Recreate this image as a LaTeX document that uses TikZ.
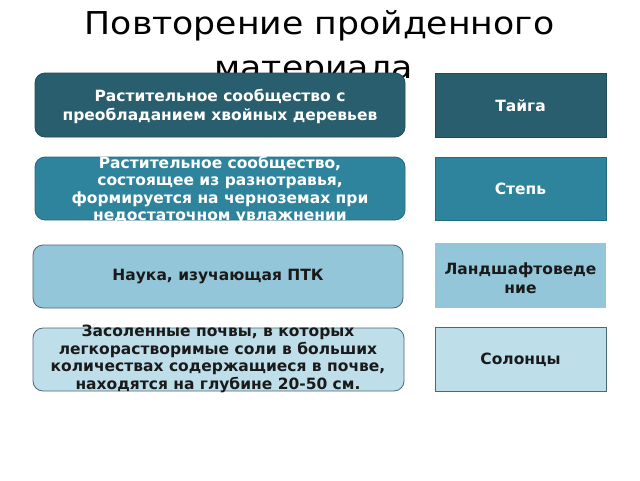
\documentclass[tikz,border=0pt]{standalone}
\usepackage{fontspec}
\setmainfont{DejaVu Sans}
\newfontfamily\titlefont[FakeStretch=1.1]{DejaVu Sans}
\definecolor{cdark}{HTML}{295E6E}
\definecolor{cmid}{HTML}{2F849D}
\definecolor{clight}{HTML}{93C6D8}
\definecolor{cpale}{HTML}{BEDFEA}
\definecolor{cedge}{HTML}{4A6878}
\definecolor{ctext}{HTML}{1A1A1A}
\tikzset{
  lbox/.style={rounded corners=10pt, draw=cedge, line width=0.8pt},
  rbox/.style={draw=cedge, line width=0.6pt},
  btext/.style={align=center, font=\fontsize{15.5}{17.5}\selectfont\bfseries},
  ttext/.style={anchor=base, font=\titlefont\fontsize{31.5}{44}\selectfont, text=black},
}
\begin{document}
\begin{tikzpicture}[x=1pt,y=-1pt]
\useasboundingbox (0,0) rectangle (640,480);
\fill[white] (0,0) rectangle (640,480);
% title
\node[ttext] (title1) at (319.5,34) {Повторение пройденного};
\node[ttext] (title2) at (313.5,78) {материала};
% left boxes
\draw[lbox, fill=cdark, draw=cdark!80!black] (35,73) rectangle (405,137);
\node[btext, text=white, font=\fontsize{15.5}{19}\selectfont\bfseries] (t1) at (220,106) {Растительное сообщество с\\преобладанием хвойных деревьев};
\draw[lbox, fill=cmid, draw=cmid!80!black] (35,157) rectangle (405,220);
\node[btext, text=white] (t2) at (220,190) {Растительное сообщество,\\состоящее из разнотравья,\\формируется на черноземах при\\недостаточном увлажнении};
\draw[lbox, fill=clight] (33,245) rectangle (403,308);
\node[btext, text=ctext] (t3) at (218,277) {Наука, изучающая ПТК};
\draw[lbox, fill=cpale] (33,328) rectangle (404,391);
\node[btext, text=ctext] (t4) at (218,359) {Засоленные почвы, в которых\\легкорастворимые соли в больших\\количествах содержащиеся в почве,\\находятся на глубине 20-50 см.};
% right boxes
\draw[rbox, fill=cdark, draw=cdark!80!black] (435,73) rectangle (606,137);
\node[btext, text=white] (r1) at (520.5,106) {Тайга};
\draw[rbox, fill=cmid, draw=cmid!80!black] (435,157) rectangle (606,220);
\node[btext, text=white] (r2) at (520.5,189) {Степь};
\fill[clight] (435,243) rectangle (606,308);
\node[btext, text=ctext, font=\fontsize{15.5}{19.5}\selectfont\bfseries] (r3) at (520.5,278) {Ландшафтоведе\\ние};
\draw[rbox, fill=cpale] (435,327) rectangle (606,391);
\node[btext, text=ctext] (r4) at (520.5,360) {Солонцы};
\end{tikzpicture}
\end{document}
